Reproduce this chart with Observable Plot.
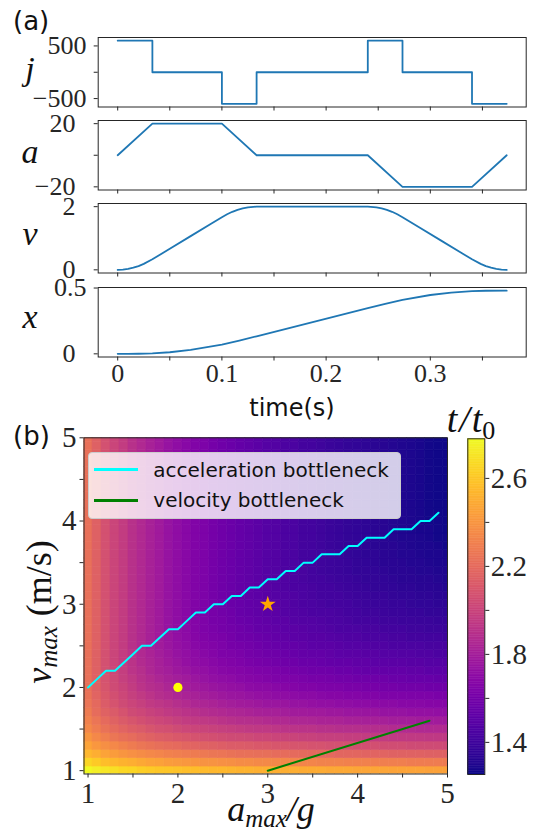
<!DOCTYPE html>
<html><head><meta charset="utf-8">
<script src="https://cdn.jsdelivr.net/npm/d3@7"></script>
<script src="https://cdn.jsdelivr.net/npm/@observablehq/plot@0.6"></script>
<style>
html,body{margin:0;padding:0;background:#fff;}
#chart{position:relative;width:550px;height:838px;overflow:hidden;}
.legend{position:absolute;box-sizing:border-box;background:rgba(255,255,255,0.8);border:1px solid #cccccc;border-radius:4px;font-family:'DejaVu Sans',sans-serif;font-size:20px;color:#111;}
.legend .row{position:absolute;left:0;height:30px;line-height:30px;white-space:nowrap;}
.legend .sw{position:absolute;left:5px;top:13.5px;width:44px;height:3px;}
.legend .lab{position:absolute;left:64px;top:0;}
</style></head>
<body><div id="chart"></div>
<script>
// ---------------- data: panel (a) ----------------
const jerkTime  = [0, 0.0333, 0.1, 0.1333, 0.24, 0.2733, 0.34, 0.3733];
const jerkValue = [600, 0, -600, 0, 600, 0, -600, -600];
const accTime   = [0, 0.0333, 0.1, 0.1333, 0.24, 0.2733, 0.34, 0.3733];
const accValue  = [0, 20, 20, 0, 0, -20, -20, 0];
const velTime   = [0, 0.005, 0.01, 0.015, 0.02, 0.025, 0.0333, 0.05, 0.07, 0.09, 0.1, 0.105, 0.11, 0.115, 0.12, 0.125, 0.1333, 0.24, 0.2483, 0.2533, 0.2583, 0.2633, 0.2683, 0.2733, 0.29, 0.31, 0.33, 0.34, 0.3483, 0.3533, 0.3583, 0.3633, 0.3683, 0.3733];
const velValue  = [0, 0.008, 0.03, 0.068, 0.12, 0.188, 0.333, 0.667, 1.067, 1.467, 1.667, 1.760, 1.837, 1.900, 1.947, 1.980, 2.0, 2.0, 1.980, 1.947, 1.900, 1.837, 1.760, 1.667, 1.333, 0.933, 0.533, 0.333, 0.188, 0.12, 0.068, 0.03, 0.008, 0];
const posTime   = [0, 0.01, 0.02, 0.0333, 0.05, 0.07, 0.1, 0.1167, 0.1333, 0.24, 0.2567, 0.2733, 0.30, 0.32, 0.34, 0.3533, 0.3733];
const posValue  = [0, 0.0001, 0.0008, 0.0037, 0.012, 0.0294, 0.0704, 0.1005, 0.1333, 0.3467, 0.3795, 0.4096, 0.447, 0.4656, 0.4763, 0.4792, 0.48];
const timeTicks = [0, 0.05, 0.1, 0.15, 0.2, 0.25, 0.3, 0.35];
const timeTickLabels = ["0", "", "0.1", "", "0.2", "", "0.3", ""];

// ---------------- data: panel (b) ----------------
const aGrid = [1.0,1.1,1.2,1.3,1.4,1.5,1.6,1.7,1.8,1.9,2.0,2.1,2.2,2.3,2.4,2.5,2.6,2.7,2.8,2.9,3.0,3.1,3.2,3.3,3.4,3.5,3.6,3.7,3.8,3.9,4.0,4.1,4.2,4.3,4.4,4.5,4.6,4.7,4.8,4.9,5.0];
const vGrid = [1.0,1.1,1.2,1.3,1.4,1.5,1.6,1.7,1.8,1.9,2.0,2.1,2.2,2.3,2.4,2.5,2.6,2.7,2.8,2.9,3.0,3.1,3.2,3.3,3.4,3.5,3.6,3.7,3.8,3.9,4.0,4.1,4.2,4.3,4.4,4.5,4.6,4.7,4.8,4.9,5.0];
// t/t0, one row per v (bottom to top), one column per a (left to right)
const tRatio = [
[2.78,2.74,2.71,2.69,2.66,2.65,2.63,2.61,2.60,2.59,2.58,2.57,2.56,2.55,2.54,2.54,2.53,2.52,2.52,2.51,2.51,2.50,2.50,2.50,2.49,2.49,2.49,2.48,2.48,2.48,2.47,2.47,2.47,2.47,2.46,2.46,2.46,2.46,2.45,2.45,2.45],
[2.65,2.61,2.57,2.54,2.52,2.50,2.48,2.46,2.45,2.43,2.42,2.41,2.40,2.39,2.39,2.38,2.37,2.36,2.36,2.35,2.35,2.34,2.34,2.33,2.33,2.33,2.32,2.32,2.32,2.31,2.31,2.31,2.30,2.30,2.30,2.30,2.29,2.29,2.29,2.29,2.28],
[2.54,2.50,2.46,2.43,2.40,2.38,2.36,2.34,2.33,2.31,2.30,2.29,2.28,2.27,2.26,2.25,2.24,2.23,2.23,2.22,2.22,2.21,2.21,2.20,2.20,2.19,2.19,2.19,2.18,2.18,2.18,2.17,2.17,2.17,2.16,2.16,2.16,2.16,2.15,2.15,2.15],
[2.46,2.41,2.37,2.34,2.31,2.28,2.26,2.24,2.22,2.21,2.20,2.18,2.17,2.16,2.15,2.14,2.13,2.13,2.12,2.11,2.11,2.10,2.10,2.09,2.09,2.08,2.08,2.07,2.07,2.07,2.06,2.06,2.06,2.05,2.05,2.05,2.04,2.04,2.04,2.04,2.03],
[2.40,2.34,2.30,2.26,2.23,2.21,2.18,2.16,2.14,2.13,2.11,2.10,2.08,2.07,2.06,2.05,2.04,2.04,2.03,2.02,2.02,2.01,2.00,2.00,1.99,1.99,1.98,1.98,1.98,1.97,1.97,1.96,1.96,1.96,1.95,1.95,1.95,1.95,1.94,1.94,1.94],
[2.34,2.29,2.24,2.20,2.17,2.14,2.12,2.09,2.07,2.06,2.04,2.02,2.01,2.00,1.99,1.98,1.97,1.96,1.95,1.94,1.94,1.93,1.92,1.92,1.91,1.91,1.90,1.90,1.89,1.89,1.89,1.88,1.88,1.88,1.87,1.87,1.87,1.86,1.86,1.86,1.86],
[2.31,2.25,2.20,2.16,2.12,2.09,2.06,2.04,2.02,2.00,1.98,1.96,1.95,1.94,1.93,1.91,1.90,1.89,1.89,1.88,1.87,1.86,1.86,1.85,1.85,1.84,1.83,1.83,1.83,1.82,1.82,1.81,1.81,1.81,1.80,1.80,1.80,1.79,1.79,1.79,1.78],
[2.28,2.21,2.16,2.12,2.08,2.04,2.02,1.99,1.97,1.95,1.93,1.91,1.90,1.88,1.87,1.86,1.85,1.84,1.83,1.82,1.81,1.81,1.80,1.79,1.79,1.78,1.78,1.77,1.77,1.76,1.76,1.75,1.75,1.74,1.74,1.74,1.73,1.73,1.73,1.72,1.72],
[2.25,2.19,2.13,2.08,2.04,2.01,1.98,1.95,1.93,1.91,1.89,1.87,1.85,1.84,1.83,1.81,1.80,1.79,1.78,1.77,1.76,1.76,1.75,1.74,1.74,1.73,1.72,1.72,1.71,1.71,1.70,1.70,1.69,1.69,1.69,1.68,1.68,1.68,1.67,1.67,1.67],
[2.24,2.17,2.11,2.06,2.02,1.98,1.95,1.92,1.89,1.87,1.85,1.83,1.82,1.80,1.79,1.77,1.76,1.75,1.74,1.73,1.72,1.71,1.71,1.70,1.69,1.69,1.68,1.67,1.67,1.66,1.66,1.65,1.65,1.64,1.64,1.64,1.63,1.63,1.63,1.62,1.62],
[2.23,2.15,2.09,2.04,2.00,1.96,1.92,1.89,1.87,1.84,1.82,1.80,1.78,1.77,1.75,1.74,1.73,1.72,1.70,1.69,1.69,1.68,1.67,1.66,1.65,1.65,1.64,1.63,1.63,1.62,1.62,1.61,1.61,1.60,1.60,1.59,1.59,1.59,1.58,1.58,1.58],
[2.23,2.15,2.08,2.03,1.98,1.94,1.90,1.87,1.84,1.82,1.80,1.78,1.76,1.74,1.72,1.71,1.70,1.68,1.67,1.66,1.65,1.64,1.64,1.63,1.62,1.61,1.61,1.60,1.59,1.59,1.58,1.58,1.57,1.57,1.56,1.56,1.55,1.55,1.55,1.54,1.54],
[2.23,2.15,2.07,2.02,1.97,1.92,1.89,1.85,1.82,1.80,1.77,1.75,1.73,1.72,1.70,1.68,1.67,1.66,1.65,1.64,1.63,1.62,1.61,1.60,1.59,1.58,1.58,1.57,1.56,1.56,1.55,1.54,1.54,1.53,1.53,1.53,1.52,1.52,1.51,1.51,1.51],
[2.23,2.15,2.07,2.01,1.96,1.91,1.87,1.84,1.81,1.78,1.76,1.73,1.71,1.70,1.68,1.66,1.65,1.64,1.62,1.61,1.60,1.59,1.58,1.57,1.56,1.56,1.55,1.54,1.53,1.53,1.52,1.52,1.51,1.51,1.50,1.50,1.49,1.49,1.48,1.48,1.48],
[2.23,2.15,2.07,2.01,1.96,1.91,1.86,1.83,1.80,1.77,1.74,1.72,1.70,1.68,1.66,1.64,1.63,1.62,1.60,1.59,1.58,1.57,1.56,1.55,1.54,1.53,1.53,1.52,1.51,1.50,1.50,1.49,1.49,1.48,1.48,1.47,1.47,1.46,1.46,1.45,1.45],
[2.23,2.15,2.07,2.01,1.96,1.90,1.86,1.82,1.79,1.76,1.73,1.71,1.68,1.66,1.65,1.63,1.61,1.60,1.59,1.57,1.56,1.55,1.54,1.53,1.52,1.51,1.50,1.50,1.49,1.48,1.48,1.47,1.46,1.46,1.45,1.45,1.44,1.44,1.43,1.43,1.43],
[2.23,2.15,2.07,2.01,1.96,1.90,1.86,1.82,1.78,1.75,1.72,1.70,1.67,1.65,1.63,1.62,1.60,1.58,1.57,1.56,1.55,1.53,1.52,1.51,1.50,1.49,1.49,1.48,1.47,1.46,1.46,1.45,1.44,1.44,1.43,1.43,1.42,1.42,1.41,1.41,1.40],
[2.23,2.15,2.07,2.01,1.96,1.90,1.86,1.82,1.78,1.74,1.71,1.69,1.66,1.64,1.62,1.60,1.59,1.57,1.56,1.54,1.53,1.52,1.51,1.50,1.49,1.48,1.47,1.46,1.45,1.45,1.44,1.43,1.43,1.42,1.41,1.41,1.40,1.40,1.39,1.39,1.38],
[2.23,2.15,2.07,2.01,1.96,1.90,1.86,1.82,1.78,1.74,1.71,1.68,1.66,1.64,1.61,1.60,1.58,1.56,1.55,1.53,1.52,1.51,1.50,1.48,1.47,1.47,1.46,1.45,1.44,1.43,1.42,1.42,1.41,1.40,1.40,1.39,1.39,1.38,1.38,1.37,1.37],
[2.23,2.15,2.07,2.01,1.96,1.90,1.86,1.82,1.78,1.74,1.71,1.68,1.65,1.63,1.61,1.59,1.57,1.55,1.54,1.52,1.51,1.50,1.48,1.47,1.46,1.45,1.44,1.44,1.43,1.42,1.41,1.40,1.40,1.39,1.38,1.38,1.37,1.37,1.36,1.36,1.35],
[2.23,2.15,2.07,2.01,1.96,1.90,1.86,1.82,1.78,1.74,1.71,1.68,1.65,1.63,1.60,1.58,1.56,1.55,1.53,1.52,1.50,1.49,1.48,1.46,1.45,1.44,1.43,1.42,1.42,1.41,1.40,1.39,1.38,1.38,1.37,1.37,1.36,1.35,1.35,1.34,1.34],
[2.23,2.15,2.07,2.01,1.96,1.90,1.86,1.82,1.78,1.74,1.71,1.68,1.65,1.63,1.60,1.58,1.56,1.54,1.52,1.51,1.49,1.48,1.47,1.46,1.44,1.43,1.42,1.41,1.41,1.40,1.39,1.38,1.37,1.37,1.36,1.35,1.35,1.34,1.34,1.33,1.33],
[2.23,2.15,2.07,2.01,1.96,1.90,1.86,1.82,1.78,1.74,1.71,1.68,1.65,1.63,1.60,1.58,1.56,1.54,1.52,1.50,1.49,1.47,1.46,1.45,1.44,1.43,1.42,1.41,1.40,1.39,1.38,1.37,1.36,1.36,1.35,1.34,1.34,1.33,1.33,1.32,1.31],
[2.23,2.15,2.07,2.01,1.96,1.90,1.86,1.82,1.78,1.74,1.71,1.68,1.65,1.63,1.60,1.58,1.56,1.54,1.52,1.50,1.48,1.47,1.46,1.44,1.43,1.42,1.41,1.40,1.39,1.38,1.37,1.36,1.36,1.35,1.34,1.33,1.33,1.32,1.32,1.31,1.30],
[2.23,2.15,2.07,2.01,1.96,1.90,1.86,1.82,1.78,1.74,1.71,1.68,1.65,1.63,1.60,1.58,1.56,1.54,1.52,1.50,1.48,1.47,1.45,1.44,1.43,1.41,1.40,1.39,1.38,1.37,1.36,1.36,1.35,1.34,1.33,1.33,1.32,1.31,1.31,1.30,1.30],
[2.23,2.15,2.07,2.01,1.96,1.90,1.86,1.82,1.78,1.74,1.71,1.68,1.65,1.63,1.60,1.58,1.56,1.54,1.52,1.50,1.48,1.47,1.45,1.44,1.42,1.41,1.40,1.39,1.38,1.37,1.36,1.35,1.34,1.33,1.33,1.32,1.31,1.31,1.30,1.29,1.29],
[2.23,2.15,2.07,2.01,1.96,1.90,1.86,1.82,1.78,1.74,1.71,1.68,1.65,1.63,1.60,1.58,1.56,1.54,1.52,1.50,1.48,1.47,1.45,1.44,1.42,1.41,1.40,1.38,1.37,1.36,1.35,1.34,1.34,1.33,1.32,1.31,1.31,1.30,1.29,1.29,1.28],
[2.23,2.15,2.07,2.01,1.96,1.90,1.86,1.82,1.78,1.74,1.71,1.68,1.65,1.63,1.60,1.58,1.56,1.54,1.52,1.50,1.48,1.47,1.45,1.44,1.42,1.41,1.40,1.38,1.37,1.36,1.35,1.34,1.33,1.32,1.32,1.31,1.30,1.29,1.29,1.28,1.27],
[2.23,2.15,2.07,2.01,1.96,1.90,1.86,1.82,1.78,1.74,1.71,1.68,1.65,1.63,1.60,1.58,1.56,1.54,1.52,1.50,1.48,1.47,1.45,1.44,1.42,1.41,1.40,1.38,1.37,1.36,1.35,1.34,1.33,1.32,1.31,1.30,1.30,1.29,1.28,1.27,1.27],
[2.23,2.15,2.07,2.01,1.96,1.90,1.86,1.82,1.78,1.74,1.71,1.68,1.65,1.63,1.60,1.58,1.56,1.54,1.52,1.50,1.48,1.47,1.45,1.44,1.42,1.41,1.40,1.38,1.37,1.36,1.35,1.34,1.33,1.32,1.31,1.30,1.29,1.28,1.28,1.27,1.26],
[2.23,2.15,2.07,2.01,1.96,1.90,1.86,1.82,1.78,1.74,1.71,1.68,1.65,1.63,1.60,1.58,1.56,1.54,1.52,1.50,1.48,1.47,1.45,1.44,1.42,1.41,1.40,1.38,1.37,1.36,1.35,1.34,1.33,1.32,1.31,1.30,1.29,1.28,1.27,1.27,1.26],
[2.23,2.15,2.07,2.01,1.96,1.90,1.86,1.82,1.78,1.74,1.71,1.68,1.65,1.63,1.60,1.58,1.56,1.54,1.52,1.50,1.48,1.47,1.45,1.44,1.42,1.41,1.40,1.38,1.37,1.36,1.35,1.34,1.33,1.32,1.31,1.30,1.29,1.28,1.27,1.26,1.26],
[2.23,2.15,2.07,2.01,1.96,1.90,1.86,1.82,1.78,1.74,1.71,1.68,1.65,1.63,1.60,1.58,1.56,1.54,1.52,1.50,1.48,1.47,1.45,1.44,1.42,1.41,1.40,1.38,1.37,1.36,1.35,1.34,1.33,1.32,1.31,1.30,1.29,1.28,1.27,1.26,1.26],
[2.23,2.15,2.07,2.01,1.96,1.90,1.86,1.82,1.78,1.74,1.71,1.68,1.65,1.63,1.60,1.58,1.56,1.54,1.52,1.50,1.48,1.47,1.45,1.44,1.42,1.41,1.40,1.38,1.37,1.36,1.35,1.34,1.33,1.32,1.31,1.30,1.29,1.28,1.27,1.26,1.26],
[2.23,2.15,2.07,2.01,1.96,1.90,1.86,1.82,1.78,1.74,1.71,1.68,1.65,1.63,1.60,1.58,1.56,1.54,1.52,1.50,1.48,1.47,1.45,1.44,1.42,1.41,1.40,1.38,1.37,1.36,1.35,1.34,1.33,1.32,1.31,1.30,1.29,1.28,1.27,1.26,1.26],
[2.23,2.15,2.07,2.01,1.96,1.90,1.86,1.82,1.78,1.74,1.71,1.68,1.65,1.63,1.60,1.58,1.56,1.54,1.52,1.50,1.48,1.47,1.45,1.44,1.42,1.41,1.40,1.38,1.37,1.36,1.35,1.34,1.33,1.32,1.31,1.30,1.29,1.28,1.27,1.26,1.26],
[2.23,2.15,2.07,2.01,1.96,1.90,1.86,1.82,1.78,1.74,1.71,1.68,1.65,1.63,1.60,1.58,1.56,1.54,1.52,1.50,1.48,1.47,1.45,1.44,1.42,1.41,1.40,1.38,1.37,1.36,1.35,1.34,1.33,1.32,1.31,1.30,1.29,1.28,1.27,1.26,1.26],
[2.23,2.15,2.07,2.01,1.96,1.90,1.86,1.82,1.78,1.74,1.71,1.68,1.65,1.63,1.60,1.58,1.56,1.54,1.52,1.50,1.48,1.47,1.45,1.44,1.42,1.41,1.40,1.38,1.37,1.36,1.35,1.34,1.33,1.32,1.31,1.30,1.29,1.28,1.27,1.26,1.26],
[2.23,2.15,2.07,2.01,1.96,1.90,1.86,1.82,1.78,1.74,1.71,1.68,1.65,1.63,1.60,1.58,1.56,1.54,1.52,1.50,1.48,1.47,1.45,1.44,1.42,1.41,1.40,1.38,1.37,1.36,1.35,1.34,1.33,1.32,1.31,1.30,1.29,1.28,1.27,1.26,1.26],
[2.23,2.15,2.07,2.01,1.96,1.90,1.86,1.82,1.78,1.74,1.71,1.68,1.65,1.63,1.60,1.58,1.56,1.54,1.52,1.50,1.48,1.47,1.45,1.44,1.42,1.41,1.40,1.38,1.37,1.36,1.35,1.34,1.33,1.32,1.31,1.30,1.29,1.28,1.27,1.26,1.26],
[2.23,2.15,2.07,2.01,1.96,1.90,1.86,1.82,1.78,1.74,1.71,1.68,1.65,1.63,1.60,1.58,1.56,1.54,1.52,1.50,1.48,1.47,1.45,1.44,1.42,1.41,1.40,1.38,1.37,1.36,1.35,1.34,1.33,1.32,1.31,1.30,1.29,1.28,1.27,1.26,1.26]
];
// cyan "acceleration bottleneck" staircase
const accelLineA = [1.0,1.1,1.2,1.3,1.4,1.5,1.6,1.7,1.8,1.9,2.0,2.1,2.2,2.3,2.4,2.5,2.6,2.7,2.8,2.9,3.0,3.1,3.2,3.3,3.4,3.5,3.6,3.7,3.8,3.9,4.0,4.1,4.2,4.3,4.4,4.5,4.6,4.7,4.8,4.9];
const accelLineV = [2.0,2.1,2.2,2.2,2.3,2.4,2.5,2.5,2.6,2.7,2.7,2.8,2.9,2.9,3.0,3.0,3.1,3.1,3.2,3.2,3.3,3.3,3.4,3.4,3.5,3.5,3.6,3.6,3.6,3.7,3.7,3.8,3.8,3.8,3.9,3.9,3.9,4.0,4.0,4.1];
// green "velocity bottleneck"
const velLineA = [3.0, 4.8];
const velLineV = [1.0, 1.6];
const dotPoint  = {a: 2, v: 2};
const starPoint = {a: 3, v: 3};
const legendLabels = ["acceleration bottleneck", "velocity bottleneck"];
const heatTicks = [1, 1.5, 2, 2.5, 3, 3.5, 4, 4.5, 5];
const cbTicks = [1.4, 1.6, 1.8, 2.0, 2.2, 2.4, 2.6];
const cbTickLabels = ["1.4", "", "1.8", "", "2.2", "", "2.6"];
const colorDomain = [1.254, 2.78];

// ---------------- styling ----------------
const SERIF = "'Liberation Serif','DejaVu Serif',serif";
const SANS = "'DejaVu Sans',sans-serif";
const INK = "#262626";
const BLUE = "#1f77b4";
const TICK_FS = 26;
const chart = document.getElementById("chart");
function place(svg, top) {
  svg.style.position = "absolute"; svg.style.left = "0px"; svg.style.top = top + "px";
  chart.appendChild(svg);
}
const baseStyle = {background: "none", overflow: "visible", color: INK};

// ---------------- panel (a) ----------------
const P_LEFT = 97.7, P_RIGHT = 525.7, P_H = 69.5;
function timePanel({top, t, y, curve, yDomain, yTicks, yLabels, labelEnds, last}) {
  const mt = 10, mb = last ? 60 : 10;
  const rows = t.map((tt, i) => ({t: tt, y: y[i]}));
  const marks = [
    Plot.line(rows, {x: "t", y: "y", curve, stroke: BLUE, strokeWidth: 1.8}),
    Plot.frame({stroke: INK, strokeWidth: 1}),
    Plot.axisX({ticks: timeTicks, anchor: "bottom", tickSize: 4, tickPadding: 3, label: null,
      tickFormat: d => last ? timeTickLabels[timeTicks.indexOf(d)] : "",
      fontSize: TICK_FS, fontFamily: SERIF})
  ];
  yTicks.forEach((tk, i) => {
    marks.push(Plot.axisY({ticks: [tk], anchor: "left", tickSize: 4, label: null,
      tickPadding: P_LEFT - 4 - labelEnds[i], tickFormat: () => yLabels[i],
      fontSize: TICK_FS, fontFamily: SERIF}));
  });
  const svg = Plot.plot({
    width: 550, height: P_H + mt + mb,
    marginLeft: P_LEFT, marginRight: 550 - P_RIGHT, marginTop: mt, marginBottom: mb,
    x: {domain: [-0.0187, 0.392], label: null},
    y: {domain: yDomain, label: null},
    style: baseStyle, marks
  });
  place(svg, top - mt);
}
timePanel({top: 37, t: jerkTime, y: jerkValue, curve: "step-after", yDomain: [-660, 660],
  yTicks: [500, 0, -500], yLabels: ["500", "", "\u2212500"], labelEnds: [86, 86, 86]});
timePanel({top: 120.2, t: accTime, y: accValue, curve: "linear", yDomain: [-22, 22],
  yTicks: [20, 0, -20], yLabels: ["20", "", "\u221220"], labelEnds: [75, 75, 75]});
timePanel({top: 203.4, t: velTime, y: velValue, curve: "linear", yDomain: [-0.1, 2.1],
  yTicks: [2, 0], yLabels: ["2", "0"], labelEnds: [75, 75]});
timePanel({top: 286.6, t: posTime, y: posValue, curve: "linear", yDomain: [-0.024, 0.504],
  yTicks: [0.5, 0], yLabels: ["0.5", "0"], labelEnds: [86, 75], last: true});

// ---------------- panel (b): heat map ----------------
const H_LEFT = 83.5, H_RIGHT = 447, H_TOP = 437.3, H_BOTTOM = 773.5, H_SVG_TOP = 400;
const cells = vGrid.flatMap((v, i) => aGrid.map((a, j) => ({a, v, t: tRatio[i][j]})));
const accelLine = accelLineA.map((a, i) => ({a, v: accelLineV[i]}));
const velLine = velLineA.map((a, i) => ({a, v: velLineV[i]}));
const half = 0.05;
const heat = Plot.plot({
  width: 550, height: 838 - H_SVG_TOP,
  marginLeft: H_LEFT, marginRight: 550 - H_RIGHT, marginTop: H_TOP - H_SVG_TOP, marginBottom: 838 - H_BOTTOM,
  x: {domain: [0.955, 5.0], label: null},
  y: {domain: [0.96, 5.0], label: null},
  color: {type: "linear", scheme: "plasma", domain: colorDomain},
  style: baseStyle,
  marks: [
    Plot.rect(cells, {x1: d => d.a - half, x2: d => d.a + half, y1: d => d.v - half, y2: d => d.v + half,
      fill: "t", stroke: "t", strokeWidth: 0.6, inset: 0, clip: true}),
    Plot.line(accelLine, {x: "a", y: "v", stroke: "#00ffff", strokeWidth: 2}),
    Plot.line(velLine, {x: "a", y: "v", stroke: "#008000", strokeWidth: 2}),
    Plot.dot([dotPoint], {x: "a", y: "v", r: 4.6, fill: "#ffff00", stroke: null}),
    Plot.dot([starPoint], {x: "a", y: "v", r: 5, symbol: "star", fill: "#ffa500", stroke: null}),
    Plot.frame({stroke: INK, strokeWidth: 1}),
    Plot.axisX({ticks: heatTicks, anchor: "bottom", tickSize: 4, tickPadding: 4, label: null,
      tickFormat: d => Number.isInteger(d) ? String(d) : "", fontSize: TICK_FS + 3, fontFamily: SERIF}),
    Plot.axisY({ticks: heatTicks, anchor: "left", tickSize: 4, tickPadding: 3.5, label: null,
      tickFormat: d => Number.isInteger(d) ? String(d) : "", fontSize: TICK_FS + 3, fontFamily: SERIF})
  ]
});
place(heat, H_SVG_TOP);

// ---------------- colour bar ----------------
const CB_LEFT = 467.3, CB_RIGHT = 484.3, CB_TOP = 438.3, CB_BOTTOM = 774;
const cbN = 200, cbStep = (colorDomain[1] - colorDomain[0]) / cbN;
const cbBands = d3.range(cbN).map(i => ({lo: colorDomain[0] + i * cbStep, hi: colorDomain[0] + (i + 1) * cbStep}));
const cbar = Plot.plot({
  width: 550, height: 838 - H_SVG_TOP,
  marginLeft: CB_LEFT, marginRight: 550 - CB_RIGHT, marginTop: CB_TOP - H_SVG_TOP, marginBottom: 838 - CB_BOTTOM,
  x: {domain: [0, 1], axis: null},
  y: {domain: colorDomain, label: null},
  color: {type: "linear", scheme: "plasma", domain: colorDomain},
  style: baseStyle,
  marks: [
    Plot.rect(cbBands, {x1: () => 0, x2: () => 1, y1: "lo", y2: "hi", fill: d => (d.lo + d.hi) / 2,
      stroke: d => (d.lo + d.hi) / 2, strokeWidth: 0.5, inset: 0}),
    Plot.frame({stroke: INK, strokeWidth: 1}),
    Plot.axisY({ticks: cbTicks, anchor: "right", tickSize: 4, tickPadding: 2, label: null,
      tickFormat: d => cbTickLabels[cbTicks.indexOf(d)], fontSize: TICK_FS + 3, fontFamily: SERIF})
  ]
});
place(cbar, H_SVG_TOP);

// ---------------- legend ----------------
const legend = document.createElement("div");
legend.className = "legend";
Object.assign(legend.style, {left: "88.3px", top: "451.7px", width: "312.5px", height: "67.6px"});
[["#00ffff", legendLabels[0], 2], ["#008000", legendLabels[1], 32.5]].forEach(([c, txt, y]) => {
  const row = document.createElement("div");
  row.className = "row"; row.style.top = y + "px";
  const sw = document.createElement("div"); sw.className = "sw"; sw.style.background = c;
  const lab = document.createElement("div"); lab.className = "lab"; lab.textContent = txt;
  row.appendChild(sw); row.appendChild(lab); legend.appendChild(row);
});
chart.appendChild(legend);

// ---------------- titles / axis names ----------------
const ov = d3.create("svg").attr("width", 550).attr("height", 838)
  .style("position", "absolute").style("left", "0px").style("top", "0px").style("overflow", "visible")
  .style("pointer-events", "none");
function txt(x, y, s, o = {}) {
  return ov.append("text").attr("x", x).attr("y", y).attr("font-family", o.family || SERIF)
    .attr("font-size", o.size || 34).attr("font-style", o.style || "normal")
    .attr("text-anchor", o.anchor || "middle").attr("fill", "#111").text(s);
}
txt(13, 30, "(a)", {family: SANS, size: 26, anchor: "start"});
txt(13, 445, "(b)", {family: SANS, size: 26, anchor: "start"});
txt(30, 80, "j", {style: "italic"});
txt(30, 163, "a", {style: "italic"});
txt(30, 245, "v", {style: "italic"});
txt(30, 328, "x", {style: "italic"});
txt(292, 416, "time(s)", {family: SANS, size: 24});
// t/t0
{
  const t = ov.append("text").attr("x", 471).attr("y", 432).attr("text-anchor", "middle")
    .attr("font-family", SERIF).attr("font-size", 38).attr("font-style", "italic").attr("fill", "#111");
  t.append("tspan").text("t");
  t.append("tspan").attr("dx", 2).text("/");
  t.append("tspan").attr("dx", 2).text("t");
  t.append("tspan").attr("font-size", 26).attr("dy", 7).attr("font-style", "normal").text("0");
}
// a_max / g
{
  const t = ov.append("text").attr("x", 271).attr("y", 821).attr("text-anchor", "middle")
    .attr("font-family", SERIF).attr("font-size", 36).attr("font-style", "italic").attr("fill", "#111");
  t.append("tspan").text("a");
  t.append("tspan").attr("font-size", 25).attr("dy", 6).text("max");
  t.append("tspan").attr("dy", -6).text("/g");
}
// v_max (m/s)
{
  const t = ov.append("text").attr("transform", "translate(51,612) rotate(-90)").attr("text-anchor", "middle")
    .attr("font-family", SERIF).attr("font-size", 36).attr("fill", "#111");
  t.append("tspan").attr("font-style", "italic").text("v");
  t.append("tspan").attr("font-style", "italic").attr("font-size", 25).attr("dy", 6).text("max");
  t.append("tspan").attr("dy", -6).attr("dx", 10).text("(m/s)");
}
chart.appendChild(ov.node());
</script>
</body></html>
